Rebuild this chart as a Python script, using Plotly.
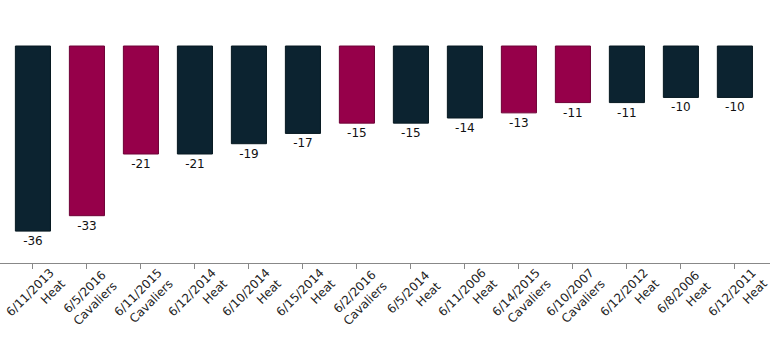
import plotly.graph_objects as go

dates = ["6/11/2013", "6/5/2016", "6/11/2015", "6/12/2014", "6/10/2014", "6/15/2014", "6/2/2016",
         "6/5/2014", "6/11/2006", "6/14/2015", "6/10/2007", "6/12/2012", "6/8/2006", "6/12/2011"]
teams = ["Heat", "Cavaliers", "Cavaliers", "Heat", "Heat", "Heat", "Cavaliers",
         "Heat", "Heat", "Cavaliers", "Cavaliers", "Heat", "Heat", "Heat"]
values = [-36, -33, -21, -21, -19, -17, -15, -15, -14, -13, -11, -11, -10, -10]

team_colors = {"Heat": "#0c2330", "Cavaliers": "#96004a"}
team_lines = {"Heat": "#061820", "Cavaliers": "#6e0036"}

labels = [f"{d}<br>{t}" for d, t in zip(dates, teams)]
x = list(range(len(values)))

fig = go.Figure(go.Bar(
    x=x, y=values,
    marker=dict(color=[team_colors[t] for t in teams],
                line=dict(color=[team_lines[t] for t in teams], width=1)),
    width=0.65,
    text=[str(v) for v in values], textposition="outside",
    textfont=dict(family="DejaVu Sans", size=12, color="#111111"),
    cliponaxis=False,
))

for xi, lab in zip(x, labels):
    fig.add_annotation(
        x=xi, y=-0.133, xref="x", yref="paper", text=lab, showarrow=False,
        textangle=-45, xanchor="center", yanchor="middle", align="right",
        xshift=3, font=dict(family="DejaVu Sans", size=12, color="#222222"),
    )

fig.update_layout(
    width=770, height=353,
    margin=dict(l=0, r=0, t=0, b=90),
    plot_bgcolor="white", paper_bgcolor="white",
    showlegend=False,
    font=dict(family="DejaVu Sans", size=12, color="#222222"),
    xaxis=dict(
        tickmode="array", tickvals=x, showticklabels=False,
        range=[-0.61, 13.65], showgrid=False, zeroline=False,
        showline=True, linecolor="#888888", linewidth=1,
        ticks="outside", ticklen=5, tickcolor="#888888",
    ),
    yaxis=dict(range=[-42.2, 8.95], visible=False, showgrid=False, zeroline=False),
)

fig.write_html("out.html")
